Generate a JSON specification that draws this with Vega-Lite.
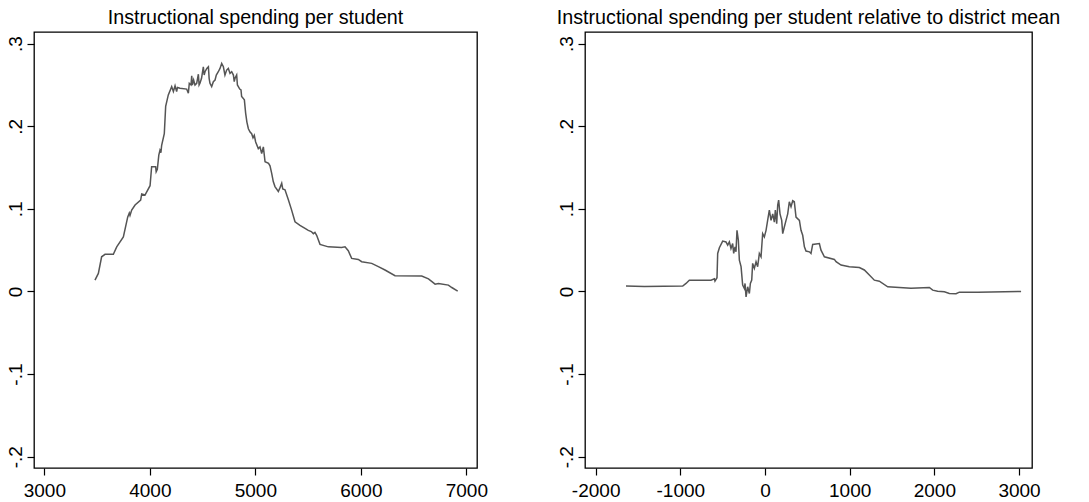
{
  "$schema": "https://vega.github.io/schema/vega-lite/v6.json",
  "background": "white",
  "padding": {"left": 5, "top": 7, "right": 0, "bottom": 0},
  "bounds": "flush",
  "spacing": 108,
  "config": {
    "font": "Liberation Sans",
    "view": {"stroke": "black", "strokeWidth": 1.3},
    "axis": {
      "grid": false,
      "domain": false,
      "ticks": true,
      "tickColor": "black",
      "tickWidth": 1.2,
      "tickSize": 7,
      "labelFont": "Liberation Sans",
      "labelFontSize": 19,
      "labelColor": "black",
      "title": null
    },
    "title": {
      "font": "Liberation Sans",
      "fontSize": 19.7,
      "fontWeight": "normal",
      "color": "black",
      "anchor": "middle",
      "frame": "group",
      "baseline": "alphabetic",
      "offset": 0
    },
    "line": {"color": "#555555", "strokeWidth": 1.5}
  },
  "datasets": {
    "spending": [
      {"x": 3480, "y": 0.0137}, {"x": 3512, "y": 0.0218}, {"x": 3543, "y": 0.042}, {"x": 3575, "y": 0.045},
      {"x": 3654, "y": 0.045}, {"x": 3686, "y": 0.054}, {"x": 3749, "y": 0.066}, {"x": 3790, "y": 0.09},
      {"x": 3805, "y": 0.095}, {"x": 3812, "y": 0.092}, {"x": 3828, "y": 0.0985}, {"x": 3860, "y": 0.1046},
      {"x": 3913, "y": 0.1106}, {"x": 3923, "y": 0.118}, {"x": 3954, "y": 0.1167}, {"x": 4002, "y": 0.128},
      {"x": 4017, "y": 0.151}, {"x": 4055, "y": 0.151}, {"x": 4060, "y": 0.145}, {"x": 4071, "y": 0.148},
      {"x": 4085, "y": 0.165}, {"x": 4096, "y": 0.171}, {"x": 4105, "y": 0.168}, {"x": 4112, "y": 0.177},
      {"x": 4137, "y": 0.191}, {"x": 4150, "y": 0.224}, {"x": 4175, "y": 0.238}, {"x": 4207, "y": 0.248},
      {"x": 4223, "y": 0.242}, {"x": 4239, "y": 0.249}, {"x": 4254, "y": 0.242}, {"x": 4262, "y": 0.247},
      {"x": 4286, "y": 0.246}, {"x": 4349, "y": 0.245}, {"x": 4365, "y": 0.24}, {"x": 4374, "y": 0.252},
      {"x": 4390, "y": 0.25}, {"x": 4397, "y": 0.261}, {"x": 4403, "y": 0.25}, {"x": 4415, "y": 0.256},
      {"x": 4428, "y": 0.25}, {"x": 4444, "y": 0.252}, {"x": 4460, "y": 0.263}, {"x": 4467, "y": 0.25},
      {"x": 4475, "y": 0.252}, {"x": 4490, "y": 0.258}, {"x": 4507, "y": 0.272}, {"x": 4515, "y": 0.262},
      {"x": 4523, "y": 0.266}, {"x": 4540, "y": 0.27}, {"x": 4555, "y": 0.272}, {"x": 4562, "y": 0.258},
      {"x": 4570, "y": 0.252}, {"x": 4586, "y": 0.248}, {"x": 4602, "y": 0.254}, {"x": 4618, "y": 0.256},
      {"x": 4630, "y": 0.262}, {"x": 4649, "y": 0.266}, {"x": 4665, "y": 0.27}, {"x": 4681, "y": 0.276},
      {"x": 4697, "y": 0.272}, {"x": 4712, "y": 0.262}, {"x": 4728, "y": 0.268}, {"x": 4744, "y": 0.27},
      {"x": 4760, "y": 0.264}, {"x": 4776, "y": 0.266}, {"x": 4792, "y": 0.262}, {"x": 4800, "y": 0.254},
      {"x": 4807, "y": 0.258}, {"x": 4823, "y": 0.262}, {"x": 4830, "y": 0.25}, {"x": 4839, "y": 0.248},
      {"x": 4852, "y": 0.245}, {"x": 4864, "y": 0.244}, {"x": 4870, "y": 0.236}, {"x": 4896, "y": 0.232},
      {"x": 4908, "y": 0.216}, {"x": 4920, "y": 0.205}, {"x": 4934, "y": 0.197}, {"x": 4950, "y": 0.193},
      {"x": 4965, "y": 0.191}, {"x": 4978, "y": 0.186}, {"x": 4990, "y": 0.189}, {"x": 5003, "y": 0.181},
      {"x": 5028, "y": 0.173}, {"x": 5044, "y": 0.175}, {"x": 5060, "y": 0.167}, {"x": 5076, "y": 0.175},
      {"x": 5092, "y": 0.157}, {"x": 5125, "y": 0.155}, {"x": 5139, "y": 0.152}, {"x": 5155, "y": 0.143},
      {"x": 5170, "y": 0.133}, {"x": 5186, "y": 0.127}, {"x": 5218, "y": 0.121}, {"x": 5235, "y": 0.126},
      {"x": 5250, "y": 0.131}, {"x": 5260, "y": 0.124}, {"x": 5281, "y": 0.123}, {"x": 5313, "y": 0.111},
      {"x": 5344, "y": 0.0985}, {"x": 5376, "y": 0.0844}, {"x": 5423, "y": 0.08}, {"x": 5471, "y": 0.0763},
      {"x": 5502, "y": 0.074}, {"x": 5530, "y": 0.0725}, {"x": 5550, "y": 0.07}, {"x": 5565, "y": 0.0715},
      {"x": 5581, "y": 0.068}, {"x": 5613, "y": 0.057}, {"x": 5692, "y": 0.054}, {"x": 5818, "y": 0.0533},
      {"x": 5850, "y": 0.054}, {"x": 5881, "y": 0.0493}, {"x": 5913, "y": 0.04}, {"x": 5976, "y": 0.0388},
      {"x": 6008, "y": 0.036}, {"x": 6103, "y": 0.034}, {"x": 6166, "y": 0.03}, {"x": 6229, "y": 0.026},
      {"x": 6324, "y": 0.019}, {"x": 6577, "y": 0.0186}, {"x": 6641, "y": 0.0153}, {"x": 6704, "y": 0.0089},
      {"x": 6735, "y": 0.0097}, {"x": 6830, "y": 0.0077}, {"x": 6862, "y": 0.0048}, {"x": 6918, "y": 0.0004}
    ],
    "relative": [
      {"x": -1642, "y": 0.0065}, {"x": -1425, "y": 0.006}, {"x": -972, "y": 0.0065}, {"x": -933, "y": 0.0097},
      {"x": -894, "y": 0.0137}, {"x": -638, "y": 0.0137}, {"x": -598, "y": 0.0153}, {"x": -591, "y": 0.0125},
      {"x": -567, "y": 0.0166}, {"x": -559, "y": 0.046}, {"x": -539, "y": 0.053}, {"x": -500, "y": 0.061},
      {"x": -461, "y": 0.06}, {"x": -441, "y": 0.056}, {"x": -421, "y": 0.06}, {"x": -402, "y": 0.052},
      {"x": -382, "y": 0.058}, {"x": -370, "y": 0.046}, {"x": -354, "y": 0.054}, {"x": -343, "y": 0.048},
      {"x": -331, "y": 0.074}, {"x": -315, "y": 0.062}, {"x": -303, "y": 0.038}, {"x": -283, "y": 0.03},
      {"x": -264, "y": 0.0077}, {"x": -244, "y": 0.0036}, {"x": -236, "y": 0.0097}, {"x": -224, "y": -0.0065},
      {"x": -205, "y": 0.0057}, {"x": -185, "y": -0.0024}, {"x": -173, "y": 0.0097}, {"x": -157, "y": 0.0137},
      {"x": -146, "y": 0.034}, {"x": -126, "y": 0.028}, {"x": -106, "y": 0.036}, {"x": -87, "y": 0.03},
      {"x": -67, "y": 0.046}, {"x": -47, "y": 0.042}, {"x": -28, "y": 0.07}, {"x": -8, "y": 0.066},
      {"x": 12, "y": 0.074}, {"x": 31, "y": 0.086}, {"x": 51, "y": 0.0985}, {"x": 71, "y": 0.086},
      {"x": 91, "y": 0.094}, {"x": 110, "y": 0.084}, {"x": 122, "y": 0.0985}, {"x": 138, "y": 0.082},
      {"x": 150, "y": 0.1046}, {"x": 161, "y": 0.1106}, {"x": 177, "y": 0.094}, {"x": 197, "y": 0.086},
      {"x": 209, "y": 0.07}, {"x": 228, "y": 0.078}, {"x": 248, "y": 0.086}, {"x": 268, "y": 0.094},
      {"x": 287, "y": 0.1086}, {"x": 307, "y": 0.1025}, {"x": 327, "y": 0.1098}, {"x": 346, "y": 0.1086},
      {"x": 366, "y": 0.09}, {"x": 406, "y": 0.086}, {"x": 425, "y": 0.074}, {"x": 445, "y": 0.068},
      {"x": 465, "y": 0.054}, {"x": 484, "y": 0.049}, {"x": 524, "y": 0.048}, {"x": 543, "y": 0.046},
      {"x": 563, "y": 0.057}, {"x": 642, "y": 0.058}, {"x": 661, "y": 0.05}, {"x": 701, "y": 0.042},
      {"x": 819, "y": 0.0388}, {"x": 839, "y": 0.036}, {"x": 898, "y": 0.032}, {"x": 996, "y": 0.03},
      {"x": 1114, "y": 0.029}, {"x": 1173, "y": 0.026}, {"x": 1232, "y": 0.02}, {"x": 1291, "y": 0.0137},
      {"x": 1350, "y": 0.0125}, {"x": 1449, "y": 0.0057}, {"x": 1724, "y": 0.004}, {"x": 1941, "y": 0.0048},
      {"x": 1980, "y": 0.0016}, {"x": 2039, "y": 0.0004}, {"x": 2118, "y": -0.0004}, {"x": 2177, "y": -0.0024},
      {"x": 2256, "y": -0.0028}, {"x": 2295, "y": -0.0008}, {"x": 2512, "y": -0.0008}, {"x": 3024, "y": 0.0}
    ]
  },
  "hconcat": [
    {
      "title": {"text": "Instructional spending per student"},
      "width": 443,
      "height": 436,
      "data": {"name": "spending"},
      "mark": {"type": "line", "interpolate": "linear"},
      "encoding": {
        "x": {
          "field": "x", "type": "quantitative",
          "scale": {"domain": [2902, 7101], "nice": false, "zero": false},
          "axis": {"values": [3000, 4000, 5000, 6000, 7000], "labelPadding": 6, "labelExpr": "format(datum.value, 'd')"}
        },
        "y": {
          "field": "y", "type": "quantitative",
          "scale": {"domain": [-0.2137, 0.3141], "nice": false, "zero": false},
          "axis": {
            "values": [-0.2, -0.1, 0, 0.1, 0.2, 0.3],
            "labelAngle": 270, "labelAlign": "center", "labelBaseline": "alphabetic", "labelPadding": 6,
            "labelExpr": "datum.value == 0 ? '0' : (datum.value < 0 ? '-' : '') + '.' + format(abs(datum.value) * 10, '.0f')"
          }
        }
      }
    },
    {
      "title": {"text": "Instructional spending per student relative to district mean"},
      "width": 447,
      "height": 436,
      "data": {"name": "relative"},
      "mark": {"type": "line", "interpolate": "linear"},
      "encoding": {
        "x": {
          "field": "x", "type": "quantitative",
          "scale": {"domain": [-2126, 3153], "nice": false, "zero": false},
          "axis": {"values": [-2000, -1000, 0, 1000, 2000, 3000], "labelPadding": 6, "labelExpr": "(datum.value < 0 ? '-' : '') + format(abs(datum.value), 'd')"}
        },
        "y": {
          "field": "y", "type": "quantitative",
          "scale": {"domain": [-0.2137, 0.3141], "nice": false, "zero": false},
          "axis": {
            "values": [-0.2, -0.1, 0, 0.1, 0.2, 0.3],
            "labelAngle": 270, "labelAlign": "center", "labelBaseline": "alphabetic", "labelPadding": 6,
            "labelExpr": "datum.value == 0 ? '0' : (datum.value < 0 ? '-' : '') + '.' + format(abs(datum.value) * 10, '.0f')"
          }
        }
      }
    }
  ]
}
